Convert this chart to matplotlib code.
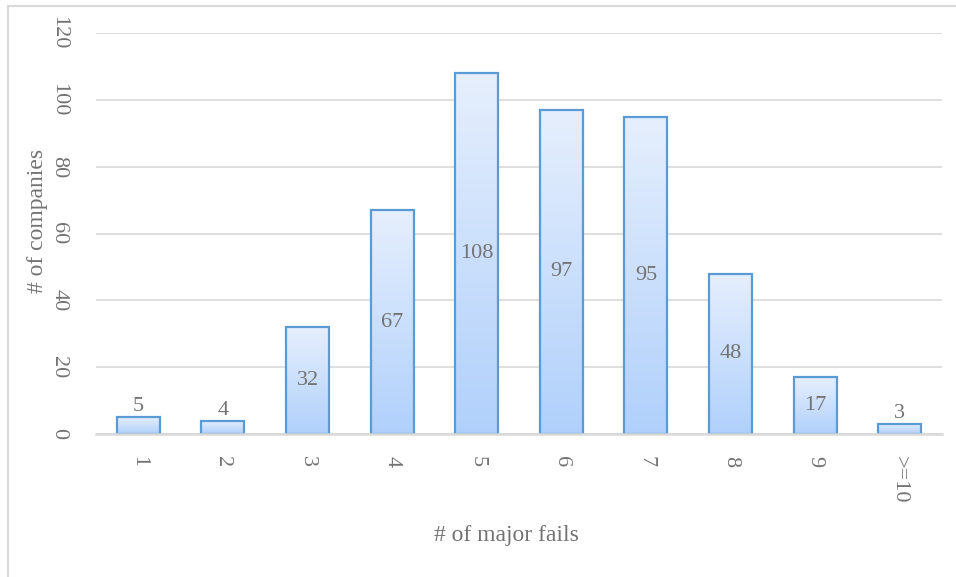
import numpy as np
import matplotlib.pyplot as plt
from matplotlib.lines import Line2D
from matplotlib.colors import LinearSegmentedColormap

categories = ['1', '2', '3', '4', '5', '6', '7', '8', '9', '>=10']
companies = [5, 4, 32, 67, 108, 97, 95, 48, 17, 3]
y_ticks = [0, 20, 40, 60, 80, 100, 120]

plt.rcParams['font.family'] = ['Liberation Serif', 'DejaVu Serif']
text_color = '#737373'
grid_color = '#D9D9D9'

fig = plt.figure(figsize=(9.56, 5.77), dpi=100)
ax = fig.add_axes([96 / 956, 143 / 577, 846 / 956, 401 / 577])

x = np.arange(len(categories))
bars = ax.bar(x, companies, width=0.51, color='none', edgecolor='#5B9BD5',
              linewidth=1.6, zorder=3)

# vertical gradient fill, clipped to each bar
cmap = LinearSegmentedColormap.from_list('grad', ['#B0D0FB', '#E6EFFD'])
grad = np.linspace(0, 1, 256).reshape(-1, 1)
for b in bars:
    x0, y0 = b.get_x(), b.get_y()
    w, h = b.get_width(), b.get_height()
    im = ax.imshow(grad, cmap=cmap, origin='lower', aspect='auto',
                   extent=[x0, x0 + w, y0, y0 + h], zorder=2)
    im.set_clip_path(b)

# data labels: centred in the bar, above it when the bar is too short
for xi, v in zip(x, companies):
    if v >= 10:
        ax.text(xi, v / 2, str(v), ha='center', va='center', fontsize=16,
                color=text_color, zorder=4)
    else:
        ax.text(xi, v + 0.3, str(v), ha='center', va='bottom', fontsize=16,
                color=text_color, zorder=4)

ax.set_xlim(-0.5, len(categories) - 0.5)
ax.set_ylim(0, 120)
ax.set_yticks(y_ticks)
ax.set_yticklabels([str(t) for t in y_ticks], rotation=-90, va='center',
                   fontsize=16, color=text_color)
ax.set_xticks(x)
ax.set_xticklabels(categories, rotation=-90, ha='center', va='top',
                   fontsize=16, color=text_color)
ax.tick_params(axis='both', length=0)
ax.tick_params(axis='y', pad=20)
ax.tick_params(axis='x', pad=16)

ax.grid(axis='y', color=grid_color, linewidth=1.2, zorder=0)
for s in ['top', 'right', 'left']:
    ax.spines[s].set_visible(False)
ax.spines['bottom'].set_color(grid_color)
ax.spines['bottom'].set_linewidth(1.8)
ax.spines['bottom'].set_zorder(4)

fig.text(506 / 956, 1 - 535 / 577, '# of major fails', ha='center',
         va='center', fontsize=17, color=text_color)
fig.text(37 / 956, 1 - 221 / 577, '# of companies', rotation=90,
         ha='center', va='center', fontsize=17, color=text_color)

# chart border (top and left visible)
fig.add_artist(Line2D([8 / 956, 1.0], [1 - 6 / 577, 1 - 6 / 577],
                      transform=fig.transFigure, color=grid_color, linewidth=1.5))
fig.add_artist(Line2D([8 / 956, 8 / 956], [0.0, 1 - 6 / 577],
                      transform=fig.transFigure, color=grid_color, linewidth=1.5))

fig.savefig('out.png', dpi=100)
